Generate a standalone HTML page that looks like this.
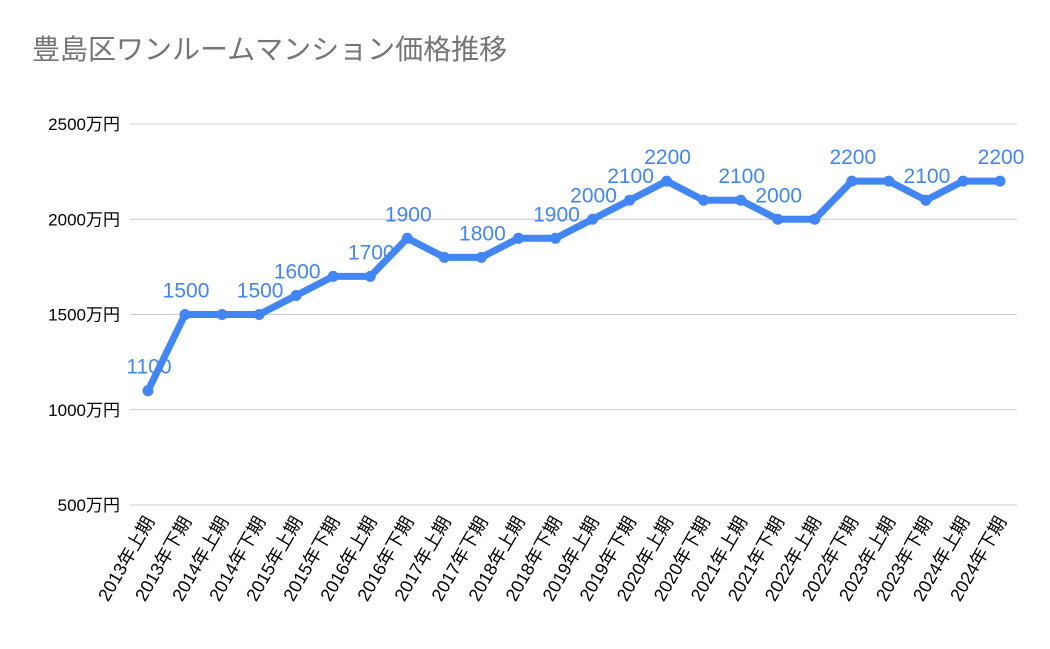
<!DOCTYPE html>
<html><head><meta charset="utf-8"><style>
body{margin:0;background:#fff}
svg{display:block;font-family:"Liberation Sans","Noto Sans CJK JP",sans-serif}
</style></head><body>
<svg width="1050" height="649" viewBox="0 0 1050 649">
<text x="32" y="59" font-size="28" fill="#757575">豊島区ワンルームマンション価格推移</text>
<g id="grid"></g><g id="xl"></g><g id="line"></g><g id="lbl"></g>
</svg>
<script>
const categories=["2013年上期","2013年下期","2014年上期","2014年下期","2015年上期","2015年下期","2016年上期","2016年下期","2017年上期","2017年下期","2018年上期","2018年下期","2019年上期","2019年下期","2020年上期","2020年下期","2021年上期","2021年下期","2022年上期","2022年下期","2023年上期","2023年下期","2024年上期","2024年下期"];
const values=[1100,1500,1500,1500,1600,1700,1700,1900,1800,1800,1900,1900,2000,2100,2200,2100,2100,2000,2000,2200,2200,2100,2200,2200];
const labeledIdx=[0,1,3,4,6,7,9,11,12,13,14,16,17,19,21,23];
const yTicks=[500,1000,1500,2000,2500];
const NS="http://www.w3.org/2000/svg";
const x=i=>148+i*(1000-148)/(categories.length-1);
const y=v=>505-(v-500)*(505-124)/2000;
function mk(t,a,p){const e=document.createElementNS(NS,t);for(const k in a)e.setAttribute(k,a[k]);p.appendChild(e);return e;}
const g=document.getElementById('grid');
yTicks.forEach(v=>{
 const l=mk('line',{x1:130,x2:1017,y1:y(v),y2:y(v),stroke:'#cccccc','stroke-width':1},g);
 
 
 const t=mk('text',{x:120,y:y(v)+6,'text-anchor':'end','font-size':17,fill:'#000'},g);
 t.textContent=v+'万円';
 
 
});
const xl=document.getElementById('xl');
categories.forEach((c,i)=>{
 const t=mk('text',{transform:`translate(${x(i)+7},${521}) rotate(-60)`,'text-anchor':'end','font-size':18,fill:'#000'},xl);
 t.textContent=c;
 
 
});
const ln=document.getElementById('line');
const p=mk('polyline',{points:values.map((v,i)=>x(i)+','+y(v)).join(' '),fill:'none',stroke:'#4285f4','stroke-width':7,'stroke-linejoin':'round'},ln);


values.forEach((v,i)=>{
 const c=mk('circle',{cx:x(i),cy:y(v),r:5.5,fill:'#4285f4'},ln);
 
 
});
const lb=document.getElementById('lbl');
labeledIdx.forEach(i=>{
 const t=mk('text',{x:x(i)+1,y:y(values[i])-17,'text-anchor':'middle','font-size':21,fill:'#4285f4'},lb);
 t.textContent=values[i];
 
 
});
</script>
</body></html>
